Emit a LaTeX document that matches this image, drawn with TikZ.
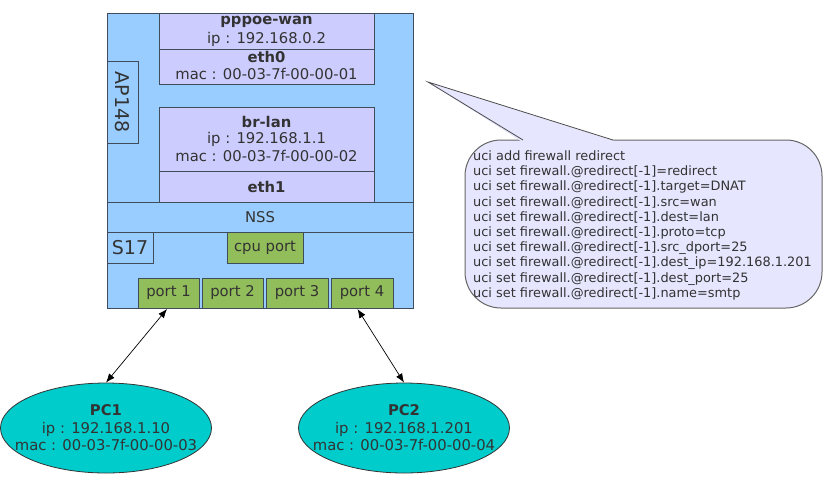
\documentclass[tikz,border=0pt]{standalone}
\usepackage{fontspec}
\setmainfont{DejaVu Sans}
\usetikzlibrary{shapes.geometric,arrows.meta}
\definecolor{mainblue}{HTML}{99CCFF}
\definecolor{ifpurple}{HTML}{CCCCFF}
\definecolor{portgreen}{HTML}{92BD5B}
\definecolor{pcteal}{HTML}{00CCCC}
\definecolor{bubblefill}{HTML}{E6E6FF}
\definecolor{edge}{HTML}{3E4C5C}
\definecolor{txt}{HTML}{333333}
\tikzset{
  box/.style={draw=edge, line width=1pt, inner sep=0pt, anchor=north west},
  lbl/.style={text=txt, font=\fontsize{14.8}{17.5}\selectfont, align=center, inner sep=0pt},
  biglbl/.style={text=txt, font=\fontsize{19}{22}\selectfont, inner sep=0pt},
  pc/.style={ellipse, draw=black!80, line width=0.8pt, fill=pcteal, minimum width=211pt, minimum height=90pt, inner sep=0pt},
  link/.style={{Latex[length=9pt,width=7pt]}-{Latex[length=9pt,width=7pt]}, line width=0.7pt, black},
}
\begin{document}
\begin{tikzpicture}[x=1pt,y=-1pt]
\useasboundingbox (0,0) rectangle (829,485);
% main device
\node[box, fill=mainblue, minimum width=306pt, minimum height=295pt] (main) at (107,13) {};
% pppoe-wan / eth0
\node[box, fill=ifpurple, minimum width=215pt, minimum height=71pt] (wan) at (159,13) {};
\coordinate (wandivL) at (159,49);
\coordinate (wandivR) at (374,49);
\draw[draw=edge, line width=1pt] (wandivL) -- (wandivR);
\node[lbl] (wanname) at (266.5,22) {\textbf{pppoe-wan}};
\node[lbl] (wanip) at (266.5,39.5) {ip : 192.168.0.2};
\node[lbl] (eth0) at (266.5,57) {\textbf{eth0}};
\node[lbl] (wanmac) at (266.5,74) {mac : 00-03-7f-00-00-01};
% AP148
\node[box, fill=mainblue, minimum width=31pt, minimum height=82pt] (ap) at (107,61) {};
\node[biglbl, rotate=-90] (aplbl) at (122.5,102) {AP148};
% br-lan / eth1
\node[box, fill=ifpurple, minimum width=215pt, minimum height=95pt] (lan) at (159,107) {};
\coordinate (landivL) at (159,171);
\coordinate (landivR) at (374,171);
\draw[draw=edge, line width=1pt] (landivL) -- (landivR);
\node[lbl] (lanname) at (266.5,122) {\textbf{br-lan}};
\node[lbl] (lanip) at (266.5,139) {ip : 192.168.1.1};
\node[lbl] (lanmac) at (266.5,156) {mac : 00-03-7f-00-00-02};
\node[lbl] (eth1) at (266.5,187) {\textbf{eth1}};
% NSS
\node[box, fill=mainblue, minimum width=306pt, minimum height=30pt] (nss) at (107,202) {};
\node[lbl] (nsslbl) at (260,217) {NSS};
% S17
\node[box, fill=mainblue, minimum width=46pt, minimum height=31pt] (s17) at (107,232) {};
\node[biglbl] (s17lbl) at (130,247.5) {S17};
% cpu port
\node[box, fill=portgreen, minimum width=76pt, minimum height=31pt] (cpu) at (227,232) {};
\node[lbl] (cpulbl) at (265,247.5) {cpu port};
% ports
\node[box, fill=portgreen, minimum width=61pt, minimum height=30pt] (p1) at (138,278) {};
\node[box, fill=portgreen, minimum width=61pt, minimum height=30pt] (p2) at (202,278) {};
\node[box, fill=portgreen, minimum width=62pt, minimum height=30pt] (p3) at (266,278) {};
\node[box, fill=portgreen, minimum width=62pt, minimum height=30pt] (p4) at (331,278) {};
\node[lbl] (p1lbl) at (168.5,293) {port 1};
\node[lbl] (p2lbl) at (232.5,293) {port 2};
\node[lbl] (p3lbl) at (297,293) {port 3};
\node[lbl] (p4lbl) at (362,293) {port 4};
% PCs
\node[pc] (pc1) at (106,428) {};
\node[lbl] (pc1lbl) at (106,428) {\textbf{PC1}\\ip : 192.168.1.10\\mac : 00-03-7f-00-00-03};
\node[pc] (pc2) at (404,428) {};
\node[lbl] (pc2lbl) at (404,428) {\textbf{PC2}\\ip : 192.168.1.201\\mac : 00-03-7f-00-00-04};
% links
\draw[link] ([xshift=-2pt]p1.south) -- (pc1.north);
\draw[link] ([xshift=-5pt]p4.south) -- (pc2.north);
% callout
\draw[draw=black!60, line width=1pt, fill=bubblefill, rounded corners=36pt] (465,140) rectangle (822,308);
\fill[bubblefill] (521,141.2) -- (428,82) -- (615,141.2) -- cycle;
\coordinate (tipA) at (523,140);
\coordinate (tip) at (428,82);
\coordinate (tipB) at (613,140);
\draw[draw=black!70, line width=0.8pt] (tipA) -- (tip) -- (tipB);
\node[anchor=north west, align=left, inner sep=0pt, text=txt, font=\fontsize{12.9}{15.2}\selectfont] (cmds) at (473,150.5) {uci add firewall redirect\\
uci set firewall.@redirect[-1]=redirect\\
uci set firewall.@redirect[-1].target=DNAT\\
uci set firewall.@redirect[-1].src=wan\\
uci set firewall.@redirect[-1].dest=lan\\
uci set firewall.@redirect[-1].proto=tcp\\
uci set firewall.@redirect[-1].src\_dport=25\\
uci set firewall.@redirect[-1].dest\_ip=192.168.1.201\\
uci set firewall.@redirect[-1].dest\_port=25\\
uci set firewall.@redirect[-1].name=smtp};
\end{tikzpicture}
\end{document}
